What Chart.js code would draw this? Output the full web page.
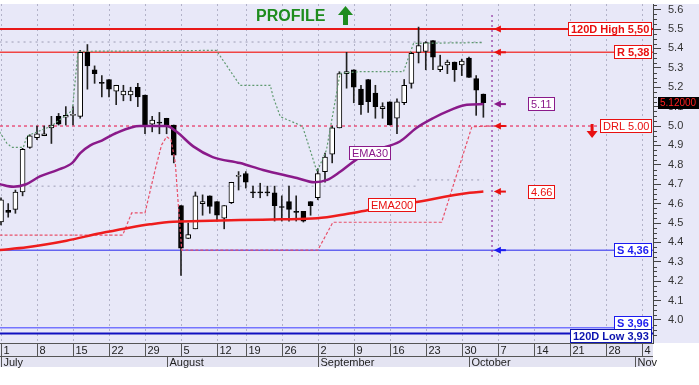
<!DOCTYPE html>
<html>
<head>
<meta charset="utf-8">
<script src="https://cdn.jsdelivr.net/npm/chart.js@4.4.1/dist/chart.umd.min.js"></script>
<style>
  html, body { margin: 0; padding: 0; background: #fff; }
  canvas { display: block; }
</style>
</head>
<body>
<canvas id="chart" width="699" height="385"></canvas>
<script>
/* ── Data (x = trading-day index, 0 = 1 July) ── */
const opens  = [4.505,4.565,4.57,4.66,4.89,4.94,4.95,4.99,5.05,5.045,5.055,5.05,5.38,5.29,5.225,5.24,5.18,5.16,5.16,5.20,
                5.16,5.01,5.02,5.04,5.005,4.59,4.42,4.47,4.60,4.64,4.61,4.525,4.605,4.74,4.755,4.66,4.66,4.66,4.655,4.585,
                4.61,4.56,4.56,4.61,4.63,4.765,4.855,4.99,5.27,5.29,5.19,5.24,5.17,5.09,5.125,5.04,5.12,5.22,5.38,5.385,
                5.44,5.29,5.315,5.33,5.315,5.35,5.245,5.165];
const highs  = [4.63,4.60,4.67,4.885,4.955,5.00,5.00,5.05,5.065,5.10,5.10,5.39,5.42,5.31,5.26,5.24,5.21,5.21,5.20,5.22,
                5.16,5.05,5.07,5.04,5.005,4.59,4.50,4.66,4.645,4.64,4.61,4.59,4.71,4.765,4.765,4.69,4.705,4.69,4.69,4.64,
                4.69,4.64,4.56,4.61,4.78,4.86,5.00,5.28,5.38,5.29,5.21,5.24,5.21,5.12,5.125,5.14,5.24,5.38,5.51,5.435,
                5.44,5.365,5.34,5.33,5.345,5.355,5.26,5.165];
const lows   = [4.49,4.53,4.55,4.64,4.885,4.93,4.95,4.91,5.005,5.005,5.005,5.04,5.19,5.22,5.15,5.15,5.11,5.13,5.13,5.10,
                4.96,4.97,4.96,4.96,4.81,4.23,4.42,4.47,4.54,4.55,4.51,4.47,4.60,4.67,4.68,4.63,4.63,4.64,4.51,4.51,
                4.51,4.51,4.505,4.54,4.62,4.71,4.81,4.99,5.195,5.12,5.06,5.07,5.04,5.04,5.005,4.96,5.11,5.195,5.325,5.29,
                5.29,5.28,5.27,5.23,5.26,5.25,5.055,5.045];
const closes = [4.62,4.555,4.66,4.88,4.95,4.96,4.96,5.005,5.01,5.055,5.06,5.38,5.31,5.27,5.22,5.19,5.21,5.18,5.18,5.15,
                5.005,5.03,5.015,5.005,4.85,4.37,4.44,4.64,4.61,4.585,4.54,4.59,4.71,4.745,4.71,4.655,4.655,4.655,4.59,4.58,
                4.57,4.555,4.51,4.59,4.755,4.84,4.99,5.27,5.28,5.20,5.11,5.125,5.10,5.10,5.005,5.125,5.21,5.375,5.415,5.43,
                5.355,5.31,5.33,5.29,5.335,5.25,5.185,5.12];

const ema30  = [[-0.2,4.70],[1.7,4.687],[3.5,4.70],[5.4,4.74],[7.8,4.773],[9.9,4.81],[11,4.86],[12.4,4.90],[14,4.925],
                [16,4.964],[19.3,5.0],[23,5.0],[24.4,4.97],[26.7,4.895],[29.4,4.84],[33.2,4.809],[36.4,4.773],[41.1,4.732],
                [43.5,4.71],[45.3,4.722],[47.1,4.764],[49.4,4.828],[52,4.875],[55.4,4.92],[57.7,4.99],[60,5.04],
                [62.4,5.082],[64.7,5.11],[67,5.113]];
const ema200 = [[-0.2,4.361],[3.6,4.375],[9.1,4.409],[13.8,4.447],[17.5,4.473],[20.7,4.493],[23.9,4.507],[27.6,4.51],
                [33.2,4.515],[38.8,4.519],[43.9,4.524],[48,4.546],[51.7,4.571],[57.2,4.605],[65.1,4.656],[67,4.662]];
const greenStop = [[-0.2,4.97],[0.8,4.912],[1.5,4.89],[3.1,4.89],[3.6,4.948],[7,5.0],[9.9,5.08],[10.7,5.385],[29.9,5.39],
                   [33.2,5.21],[37.4,5.21],[37.8,5.15],[38.8,5.048],[41.5,5.005],[41.9,4.996],[43.9,4.764],[45.2,4.876],
                   [47.1,5.272],[49.9,5.28],[55.9,5.28],[57.3,5.426],[66.8,5.43]];
const redStop = [[-0.2,4.438],[16.9,4.438],[18.15,4.552],[20,4.552],[21.4,4.773],[22.3,4.902],[23,4.945],[23.6,4.93],
                 [24.2,4.814],[24.6,4.608],[25.1,4.36],[44,4.36],[46.1,4.504],[61.2,4.504],[65.4,4.996],[68.2,5.0]];
const greyHi = [[-0.2,5.433],[66.8,5.433]];
const greyLo = [[-0.2,4.69],[57.6,4.69],[57.7,null],[57.8,4.722],[67,4.722]];
const lastDay = 68.2;
const lastDaySpan = [5.572, 4.318];

const levelValues = [5.50, 5.38, 5.00, 4.36, 3.96, 3.93];
const levelLabels = ['120D High 5,50', 'R 5,38', 'DRL 5.00', 'S 4,36', 'S 3,96', '120D Low 3,93'];
const lastPrice = 5.12;

const dayTicks   = [0,5,10,15,20,25,30,34,39,44,49,54,59,64,69,74,79,84,89];
const dayLabels  = ['1','8','15','22','29','5','12','19','26','2','9','16','23','30','7','14','21','28','4'];
const monthTicks = [0,23,44,65,88];
const monthLabels = ['July','August','September','October','Nov'];
const yTicks = [4.0,4.1,4.2,4.3,4.4,4.5,4.6,4.7,4.8,4.9,5.0,5.1,5.2,5.3,5.4,5.5,5.6];

const X_MIN = -0.14, X_MAX = 90.56, Y_MIN = 3.8814, Y_MAX = 5.629;
const FONT = "'Liberation Sans', Arial, sans-serif";

const pts = a => a.map(p => ({ x: p[0], y: p[1] }));
const flat = v => [{ x: X_MIN, y: v }, { x: X_MAX, y: v }];

/* ── Helpers ── */
function tag(ctx, text, x, y, align, font, fg, bd) {
  ctx.font = font;
  const w = Math.round(ctx.measureText(text).width + 6), h = 14;
  const left = Math.round(align === 'right' ? x - w : x - w / 2);
  const top = Math.round(y - h / 2);
  ctx.fillStyle = '#fff';
  ctx.fillRect(left, top, w, h);
  ctx.strokeStyle = bd; ctx.lineWidth = 1; ctx.setLineDash([]);
  ctx.strokeRect(left + .5, top + .5, w - 1, h - 1);
  ctx.fillStyle = fg; ctx.textAlign = 'left'; ctx.textBaseline = 'middle';
  ctx.fillText(text, left + 3, top + h / 2 + 1);
}
function leftArrow(ctx, x, y, color) {
  ctx.fillStyle = color; ctx.strokeStyle = color; ctx.lineWidth = 2; ctx.setLineDash([]);
  ctx.beginPath(); ctx.moveTo(x + 4, y); ctx.lineTo(x + 11, y); ctx.stroke();
  ctx.beginPath(); ctx.moveTo(x - 1, y); ctx.lineTo(x + 6, y - 3.5); ctx.lineTo(x + 6, y + 3.5); ctx.closePath(); ctx.fill();
}

/* ── Decorations ── */
const decor = {
  id: 'decor',
  beforeDraw(c) {
    const { ctx, chartArea: a } = c, xs = c.scales.x;
    ctx.save();
    ctx.fillStyle = '#fff'; ctx.fillRect(0, 0, c.width, c.height);
    ctx.fillStyle = '#e8e8f8'; ctx.fillRect(0, a.top, c.width, a.bottom - a.top);
    ctx.strokeStyle = '#b2b2c8'; ctx.lineWidth = 1; ctx.setLineDash([2, 3]);
    dayTicks.forEach(t => {
      const x = Math.round(xs.getPixelForValue(t)) + .5;
      ctx.beginPath(); ctx.moveTo(x, a.top); ctx.lineTo(x, a.bottom); ctx.stroke();
    });
    ctx.restore();
  },
  afterDatasetsDraw(c) {
    const { ctx, chartArea: a } = c, xs = c.scales.x, ys = c.scales.y;
    ctx.save();
    const red = '#e81010', blue = '#1c1cf0', navy = '#0c14b0', purple = '#8a1a8a';
    const fg = [red, red, red, blue, blue, navy];
    const bold = [true, true, false, true, true, true];
    const dy = [0, 0, 0, 0, -5, 2.5];
    levelValues.forEach((v, k) => {
      const y = ys.getPixelForValue(v) + dy[k];
      tag(ctx, levelLabels[k], a.right - 1, y, 'right', (bold[k] ? 'bold ' : '') + '11px ' + FONT, fg[k], fg[k]);
    });
    // arrows at the last-day column
    const ax = xs.getPixelForValue(68.6);
    [[5.50, red], [5.38, red], [5.00, red], [4.36, blue]].forEach(p => leftArrow(ctx, ax, ys.getPixelForValue(p[0]), p[1]));
    const e30 = ema30[ema30.length - 1][1], e200 = ema200[ema200.length - 1][1];
    leftArrow(ctx, ax, ys.getPixelForValue(e30), purple);
    leftArrow(ctx, ax, ys.getPixelForValue(e200), red);
    tag(ctx, e30.toFixed(2), xs.getPixelForValue(75.1), ys.getPixelForValue(e30), 'center', '11px ' + FONT, purple, purple);
    tag(ctx, e200.toFixed(2), xs.getPixelForValue(75.1), ys.getPixelForValue(e200), 'center', '11px ' + FONT, red, red);
    tag(ctx, 'EMA30', xs.getPixelForValue(51.25), ys.getPixelForValue(4.861), 'center', '11px ' + FONT, purple, purple);
    tag(ctx, 'EMA200', xs.getPixelForValue(54.3), ys.getPixelForValue(4.593), 'center', '11px ' + FONT, red, red);
    // down arrow under DRL
    const dx = xs.getPixelForValue(82.1), dyl = ys.getPixelForValue(5.00);
    ctx.fillStyle = red;
    ctx.fillRect(dx - 1.5, dyl - 2, 3, 8);
    ctx.beginPath(); ctx.moveTo(dx - 5.5, dyl + 5); ctx.lineTo(dx + 5.5, dyl + 5); ctx.lineTo(dx, dyl + 12); ctx.closePath(); ctx.fill();
    // PROFILE title
    ctx.fillStyle = '#1e8c1e'; ctx.font = 'bold 16px ' + FONT; ctx.textAlign = 'left'; ctx.textBaseline = 'alphabetic';
    ctx.fillText('PROFILE', 256, 21);
    ctx.beginPath(); ctx.moveTo(345.5, 6); ctx.lineTo(353, 15); ctx.lineTo(338, 15); ctx.closePath(); ctx.fill();
    ctx.fillRect(343, 14, 5, 11);
    ctx.restore();
  },
  afterDraw(c) {
    const { ctx, chartArea: a } = c, xs = c.scales.x, ys = c.scales.y;
    ctx.save();
    // minor ticks on the price axis
    ctx.strokeStyle = '#444'; ctx.lineWidth = 1;
    for (let k = 156; k <= 225; k++) {
      if (k % 4 === 0) continue;
      const y = Math.round(ys.getPixelForValue(k * 0.025)) + .5;
      ctx.beginPath(); ctx.moveTo(a.right, y); ctx.lineTo(a.right + 4, y); ctx.stroke();
    }
    // last price tag
    const py = ys.getPixelForValue(lastPrice);
    ctx.fillStyle = '#000'; ctx.fillRect(a.right + 5, Math.round(py - 6), 46, 12);
    ctx.fillStyle = '#ff2020'; ctx.font = '10px ' + FONT; ctx.textAlign = 'left'; ctx.textBaseline = 'middle';
    ctx.fillText(lastPrice.toFixed(5), a.right + 7, py + 0.5);
    // date rows
    const r0 = a.bottom, r1 = a.bottom + 13, r2 = a.bottom + 24;
    ctx.fillStyle = '#e4e4f2'; ctx.fillRect(0, r0, a.right, r2 - r0);
    ctx.strokeStyle = '#555';
    [r0, r1].forEach(y => { ctx.beginPath(); ctx.moveTo(0, y + .5); ctx.lineTo(a.right, y + .5); ctx.stroke(); });
    ctx.font = '11px ' + FONT; ctx.fillStyle = '#222'; ctx.textBaseline = 'middle';
    dayTicks.forEach((t, k) => {
      const x = Math.round(xs.getPixelForValue(t)) + .5;
      ctx.beginPath(); ctx.moveTo(x, r0); ctx.lineTo(x, r1); ctx.stroke();
      ctx.fillText(dayLabels[k], x + 2, (r0 + r1) / 2 + 1);
    });
    monthTicks.forEach((t, k) => {
      const x = Math.round(xs.getPixelForValue(t)) + .5;
      ctx.beginPath(); ctx.moveTo(x, r1); ctx.lineTo(x, r2); ctx.stroke();
      ctx.fillText(monthLabels[k], x + 2, (r1 + r2) / 2 + 1);
    });
    ctx.restore();
  }
};

/* ── Chart ── */
const lineDs = (data, color, width, dash, order, extra) => Object.assign({
  type: 'line', data, borderColor: color, borderWidth: width, borderDash: dash,
  pointRadius: 0, fill: false, tension: 0, order
}, extra || {});

const levelColors = ['#e81818', '#f04444', '#e83060', '#6464f0', '#7474ff', '#1010c0'];
const levelWidths = [2, 1.5, 1.2, 1.5, 1.5, 2];
const levelDash = [[], [], [3, 3], [], [], []];

new Chart(document.getElementById('chart'), {
  type: 'bar',
  data: {
    datasets: [
      ...levelValues.map((v, k) => lineDs(flat(v), levelColors[k], levelWidths[k], levelDash[k], 20)),
      lineDs(pts(greyHi), '#9c9cb4', 1, [2, 4], 19),
      lineDs(pts(greyLo), '#9c9cb4', 1, [2, 4], 19, { spanGaps: false }),
      {
        type: 'bar', order: 12, grouped: false,
        data: lows.map((l, i) => ({ x: i, y: [l, highs[i]] })),
        backgroundColor: '#222', barThickness: 1
      },
      {
        type: 'bar', order: 11, grouped: false,
        data: opens.map((o, i) => ({ x: i, y: [o, closes[i]] })),
        backgroundColor: opens.map((o, i) => closes[i] >= o ? '#fff' : '#000'),
        borderColor: '#000', borderWidth: 1, borderSkipped: false, barThickness: 5, minBarLength: 1
      },
      lineDs(pts(redStop), '#e8506a', 1.2, [3, 2], 6),
      lineDs(pts(greenStop), '#5f9a70', 1.2, [2, 2], 5),
      lineDs(pts(ema200), '#ee1c1c', 2.5, [], 4, { cubicInterpolationMode: 'monotone' }),
      lineDs(pts(ema30), '#8a1a8a', 2.5, [], 3, { cubicInterpolationMode: 'monotone' }),
      lineDs([{ x: lastDay, y: lastDaySpan[0] }, { x: lastDay, y: lastDaySpan[1] }], '#9030a0', 1.2, [2, 3], 2)
    ]
  },
  options: {
    responsive: false, animation: false, events: [],
    layout: { padding: { top: 4, bottom: 42, left: 0, right: 0 } },
    plugins: { legend: { display: false }, tooltip: { enabled: false } },
    scales: {
      x: { type: 'linear', min: X_MIN, max: X_MAX, display: false, offset: false, grid: { offset: false } },
      y: {
        position: 'right', min: Y_MIN, max: Y_MAX, beginAtZero: false,
        afterBuildTicks: s => { s.ticks = yTicks.map(v => ({ value: v })); },
        afterFit: s => { s.width = 46; s.paddingTop = 0; s.paddingBottom = 0; },
        grid: { drawOnChartArea: false, drawTicks: true, tickLength: 8, color: '#444' },
        border: { display: true, color: '#444' },
        ticks: { padding: 7, color: '#333', font: { size: 11, family: FONT }, callback: v => v.toFixed(1) }
      }
    }
  },
  plugins: [decor]
});
</script>
</body>
</html>
